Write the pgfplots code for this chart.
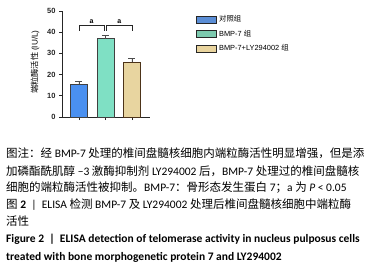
\documentclass[border=0pt]{standalone}
\usepackage{fontspec}
\setmainfont{Carlito}
\newfontfamily\cjk{Noto Sans CJK SC}
\newfontfamily\arial{Liberation Sans}
\usepackage{pgfplots}
\pgfplotsset{compat=1.18}
\newcommand\zh[1]{{\cjk #1}}
\definecolor{cblue}{HTML}{4A90F0}
\definecolor{cgreen}{HTML}{7FE0C4}
\definecolor{ctan}{HTML}{E8D5A0}
\definecolor{lblue}{HTML}{5B8ED6}
\definecolor{lgreen}{HTML}{7CC9AE}
\definecolor{ltan}{HTML}{E9D49E}
\begin{document}
\begin{tikzpicture}
\useasboundingbox (0pt,0pt) rectangle (383pt,269pt);
\begin{axis}[
  at={(62pt,152pt)}, anchor=south west, scale only axis,
  width=88pt, height=106pt,
  xmin=0.36, xmax=3.68, ymin=0, ymax=50,
  axis lines=left, axis line style={-, line width=0.9pt, black!85},
  ytick={0,10,20,30,40,50}, xtick={1,2,3}, xticklabels={},
  tick align=outside, major tick length=3pt,
  tick style={line width=0.8pt, black!85},
  yticklabel style={font=\arial\bfseries\fontsize{7.5}{9}\selectfont, text=black!85, /pgf/number format/assume math mode=true},
  clip=false,
  legend style={at={(1.49,0.995)}, anchor=north west, draw=none, fill=none,
    font=\arial\fontsize{7.4}{8}\selectfont, row sep=2.8pt,
    /tikz/every even column/.append style={column sep=3pt}},
  legend cell align=left,
  legend image code/.code={\draw[#1, line width=0.8pt] (0pt,-3.5pt) rectangle (20pt,3.5pt);},
]
\addplot[ybar, bar width=17pt, bar shift=0pt, fill=cblue, draw=black!75, line width=0.8pt, forget plot,
  error bars/.cd, y dir=plus, y explicit,
  error bar style={black!70, line width=0.8pt},
  error mark options={rotate=90, mark size=3.5pt, line width=0.8pt, black!70}]
  coordinates {(1,15.6) +- (0,1.3)};
\addplot[ybar, bar width=17pt, bar shift=0pt, fill=cgreen, draw=black!75, line width=0.8pt, forget plot,
  error bars/.cd, y dir=plus, y explicit,
  error bar style={black!70, line width=0.8pt},
  error mark options={rotate=90, mark size=3.5pt, line width=0.8pt, black!70}]
  coordinates {(2,36.9) +- (0,1.7)};
\addplot[ybar, bar width=17pt, bar shift=0pt, fill=ctan, draw=black!60!brown, line width=0.8pt, forget plot,
  error bars/.cd, y dir=plus, y explicit,
  error bar style={black!70, line width=0.8pt},
  error mark options={rotate=90, mark size=3.5pt, line width=0.8pt, black!70}]
  coordinates {(3,25.8) +- (0,1.9)};
\addlegendimage{fill=lblue, draw=black!85}
\addlegendentry{\zh{对照组}}
\addlegendimage{fill=lgreen, draw=black!85}
\addlegendentry{BMP-7 \zh{组}}
\addlegendimage{fill=ltan, draw=black!85}
\addlegendentry{BMP-7+LY294002 \zh{组}}
\draw[line width=0.9pt, black!85] (axis cs:1,40.8) -- (axis cs:1,43.1) -- (axis cs:1.95,43.1) -- (axis cs:1.95,40.8);
\draw[line width=0.9pt, black!85] (axis cs:2.05,40.8) -- (axis cs:2.05,43.1) -- (axis cs:3,43.1) -- (axis cs:3,40.8);
\node[font=\arial\bfseries\fontsize{7}{8}\selectfont, anchor=base] at (axis cs:1.48,44.3) {a};
\node[font=\arial\bfseries\fontsize{7}{8}\selectfont, anchor=base] at (axis cs:2.52,44.3) {a};
\end{axis}
\node[rotate=90, font=\fontsize{8.2}{9}\selectfont] at (35pt,207pt) {\zh{端粒酶活性} \arial(IU/L)};
\begin{scope}[every node/.style={anchor=base west, inner sep=0pt, font=\fontsize{11.5}{13}\selectfont}]
\node at (6pt,111.3pt) {\zh{图注：经} BMP-7 \zh{处理的椎间盘髓核细胞内端粒酶活性明显增强，但是添}};
\node at (6pt,93.9pt) {\zh{加磷酯酰肌醇} −3 \zh{激酶抑制剂} LY294002 \zh{后，}BMP-7 \zh{处理过的椎间盘髓核}};
\node at (6pt,77.3pt) {\zh{细胞的端粒酶活性被抑制。}BMP-7\zh{：骨形态发生蛋白} 7\zh{；}a \zh{为} \textit{P} < 0.05};
\node at (6pt,60.6pt) {\zh{图} \textbf{2} \ | \ ELISA \zh{检测} BMP-7 \zh{及} LY294002 \zh{处理后椎间盘髓核细胞中端粒酶}};
\node at (6pt,43.9pt) {\zh{活性}};
\node at (6pt,26.2pt) {\textbf{Figure 2 \ | \ ELISA detection of telomerase activity in nucleus pulposus cells}};
\node at (6pt,8.8pt) {\textbf{treated with bone morphogenetic protein 7 and LY294002}};
\end{scope}
\end{tikzpicture}
\end{document}
